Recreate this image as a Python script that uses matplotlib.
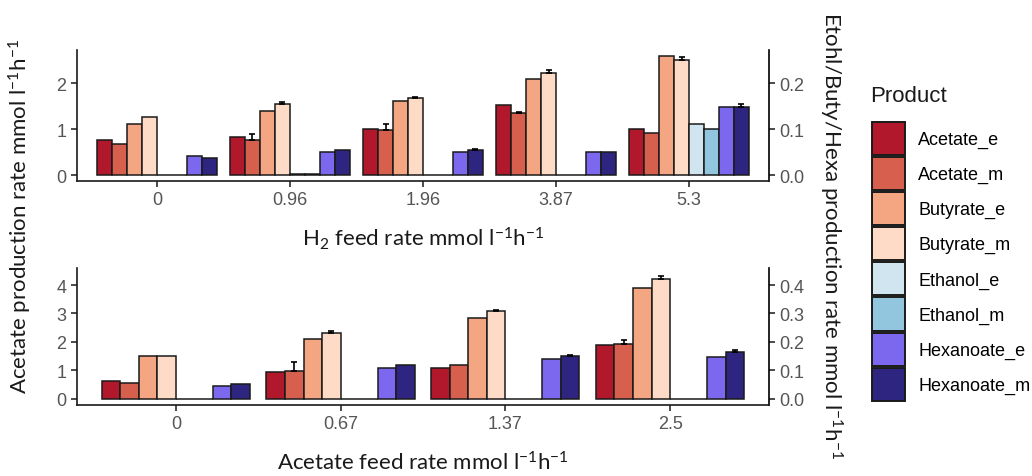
import numpy as np
import matplotlib
matplotlib.use("Agg")
import matplotlib.pyplot as plt
from matplotlib.patches import Patch

plt.rcParams['font.family'] = ['Liberation Sans', 'DejaVu Sans']
plt.rcParams['mathtext.fontset'] = 'custom'
plt.rcParams['mathtext.rm'] = 'Lato'
plt.rcParams['mathtext.it'] = 'Lato:italic'

products = ['Acetate_e', 'Acetate_m', 'Butyrate_e', 'Butyrate_m',
            'Ethanol_e', 'Ethanol_m', 'Hexanoate_e', 'Hexanoate_m']
colors = ['#B2182B', '#D6604D', '#F4A582', '#FDDBC7',
          '#D1E5F0', '#92C5DE', '#7B68EE', '#2D2580']
# acetate on left axis, the rest on right axis (1/10 scale)
scale = [1, 1, 10, 10, 10, 10, 10, 10]

h2_feed = ['0', '0.96', '1.96', '3.87', '5.3']
h2_values = [
    [0.76, 0.82, 1.01, 1.52, 1.01],
    [0.67, 0.76, 0.98, 1.36, 0.92],
    [0.110, 0.139, 0.161, 0.209, 0.258],
    [0.127, 0.155, 0.168, 0.222, 0.250],
    [0.0, 0.002, 0.0, 0.0, 0.110],
    [0.0, 0.002, 0.0, 0.0, 0.101],
    [0.041, 0.051, 0.051, 0.051, 0.149],
    [0.038, 0.054, 0.054, 0.051, 0.149],
]
h2_errors = [
    [0, 0, 0, 0, 0],
    [0, 0.13, 0.13, 0.02, 0],
    [0, 0, 0, 0, 0],
    [0, 0.003, 0.002, 0.006, 0.006],
    [0, 0, 0, 0, 0],
    [0, 0, 0, 0, 0],
    [0, 0, 0, 0, 0],
    [0, 0, 0.002, 0, 0.006],
]

ac_feed = ['0', '0.67', '1.37', '2.5']
ac_values = [
    [0.64, 0.93, 1.08, 1.90],
    [0.57, 0.98, 1.18, 1.94],
    [0.150, 0.211, 0.283, 0.390],
    [0.150, 0.232, 0.309, 0.420],
    [0.0, 0.0, 0.0, 0.0],
    [0.0, 0.0, 0.0, 0.0],
    [0.046, 0.108, 0.139, 0.148],
    [0.053, 0.118, 0.150, 0.165],
]
ac_errors = [
    [0, 0, 0, 0],
    [0, 0.32, 0, 0.12],
    [0, 0, 0, 0],
    [0, 0.005, 0.004, 0.011],
    [0, 0, 0, 0],
    [0, 0, 0, 0],
    [0, 0, 0, 0],
    [0, 0, 0.003, 0.005],
]

fig = plt.figure(figsize=(10.32, 4.77), dpi=100)
ax1 = fig.add_axes([0.0746, 0.6184, 0.6705, 0.2747])
ax2 = fig.add_axes([0.0746, 0.1488, 0.6705, 0.2873])

bw = 0.9 / len(products)


def draw_panel(ax, labels, values, errors, ylim, yticks):
    x = np.arange(len(labels))
    for i, name in enumerate(products):
        pos = x - 0.45 + bw * (i + 0.5)
        v = np.array(values[i]) * scale[i]
        e = np.array(errors[i]) * scale[i]
        ax.bar(pos, v, width=bw, color=colors[i], edgecolor='#1a1a1a',
               linewidth=1.1, zorder=2)
        has = e > 0
        if has.any():
            ax.errorbar(pos[has], v[has], yerr=[np.zeros(has.sum()), e[has]],
                        fmt='none', ecolor='black', elinewidth=1.2,
                        capsize=2.5, capthick=1.2, zorder=3)
    ax.set_xlim(-0.6, len(labels) - 0.4)
    ax.set_ylim(*ylim)
    ax.set_xticks(x)
    ax.set_xticklabels(labels)
    ax.set_yticks(yticks)
    ax.set_yticklabels([str(t) for t in yticks])
    for s in ['top', 'right']:
        ax.spines[s].set_visible(False)
    for s in ['left', 'bottom']:
        ax.spines[s].set_linewidth(1.2)
        ax.spines[s].set_color('#1a1a1a')
    ax.tick_params(axis='both', colors='#1a1a1a', labelcolor='#555555',
                   labelsize=13, length=4, width=1.1)
    sec = ax.secondary_yaxis('right', functions=(lambda y: y / 10, lambda y: y * 10))
    sec.set_yticks([t / 10 for t in yticks])
    sec.set_yticklabels(['%.1f' % (t / 10) for t in yticks])
    sec.spines['right'].set_linewidth(1.2)
    sec.tick_params(colors='#1a1a1a', labelcolor='#555555', labelsize=13,
                    length=4, width=1.1)


draw_panel(ax1, h2_feed, h2_values, h2_errors, (-0.13, 2.72), [0, 1, 2])
draw_panel(ax2, ac_feed, ac_values, ac_errors, (-0.22, 4.6), [0, 1, 2, 3, 4])

title_font = dict(family='Lato', fontsize=16, color='#1a1a1a')
fig.text(0.41, 0.50, r'H$_2$ feed rate mmol l$^{-1}$h$^{-1}$',
         ha='center', va='center', **title_font)
fig.text(0.41, 0.03, r'Acetate feed rate mmol l$^{-1}$h$^{-1}$',
         ha='center', va='center', **title_font)
fig.text(0.02, 0.545, r'Acetate production rate mmol l$^{-1}$h$^{-1}$',
         ha='center', va='center', rotation=90, **title_font)
fig.text(0.805, 0.507, r'Etohl/Buty/Hexa production rate mmol l$^{-1}$h$^{-1}$',
         ha='center', va='center', rotation=270, **title_font)

# legend title drawn separately so the gap to the keys matches
fig.text(0.843, 0.797, 'Product', fontsize=16, color='#1a1a1a',
         ha='left', va='center')
handles = [Patch(facecolor=c, edgecolor='#1a1a1a', linewidth=1.4) for c in colors]
leg = fig.legend(handles, products, loc='upper left',
                 bbox_to_anchor=(0.838, 0.758), frameon=False, fontsize=13,
                 handlelength=1.85, handleheight=2.45,
                 labelspacing=0.11, handletextpad=0.7, borderaxespad=0)

fig.savefig('out.png', dpi=100, facecolor='white')
